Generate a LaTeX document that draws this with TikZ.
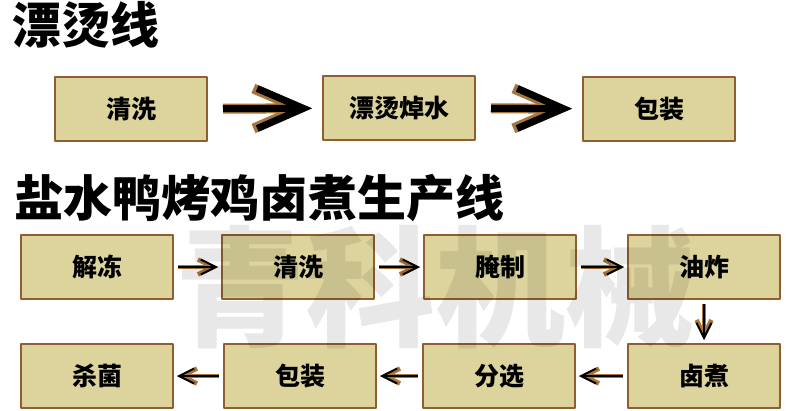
\documentclass[tikz,border=0pt]{standalone}
\usepackage{fontspec}
\setmainfont{Noto Sans CJK SC}[BoldFont={Noto Sans CJK SC Black}]
\usetikzlibrary{arrows.meta}
\definecolor{paper}{HTML}{DCD49C}
\definecolor{frame}{HTML}{8F5F2F}
\definecolor{rust}{HTML}{A8763C}
\begin{document}
\begin{tikzpicture}[x=1pt,y=-1pt, line join=round,
		stage/.style={draw=frame, line width=2pt, fill=paper, minimum width=152pt, minimum height=64pt, inner sep=0pt, font=\fontsize{25}{25}\selectfont\bfseries},
		bigflow/.style={line width=7pt, -{Straight Barb[length=46pt,width=40pt]}, preaction={draw=rust, line width=10pt, -{Straight Barb[length=46pt,width=40pt]}}, shorten <=15pt, shorten >=10pt},
		flow/.style={line width=2pt, -{Straight Barb[length=15pt,width=15pt]}, preaction={draw=rust, line width=4.5pt, -{Straight Barb[length=15pt,width=15pt]}}, shorten <=4pt, shorten >=3pt},
		title/.style={anchor=west, inner sep=0pt, font=\fontsize{49}{49}\selectfont\bfseries}]
	\fill[white] (0,0) rectangle (800,410);
	\useasboundingbox (0,0) rectangle (800,410);
	% 漂烫线
	\node[title] (t1) at (12,25) {漂烫线};
	\node[stage] (wash) at (131,109) {清洗};
	\node[stage] (scald) at (399,108) {漂烫焯水};
	\node[stage] (pack) at (659,109) {包装};
	\draw[bigflow] (wash) -- (scald);
	\draw[bigflow] (scald) -- (pack);
	% 盐水鸭烤鸡卤煮生产线
	\node[title] (t2) at (14,198) {盐水鸭烤鸡卤煮生产线};
	\node[stage] (thaw) at (97,267) {解冻};
	\node[stage] (clean) at (298,267) {清洗};
	\node[stage] (cure) at (500,267) {腌制};
	\node[stage] (fry) at (704,267) {油炸};
	\node[stage] (braise) at (704,376) {卤煮};
	\node[stage] (sort) at (499,376) {分选};
	\node[stage] (bag) at (300,376) {包装};
	\node[stage] (kill) at (97,376) {杀菌};
	\draw[flow] (thaw) -- (clean);
	\draw[flow] (clean) -- (cure);
	\draw[flow] (cure) -- (fry);
	\draw[flow] (fry) -- (braise);
	\draw[flow] (braise) -- (sort);
	\draw[flow] (sort) -- (bag);
	\draw[flow] (bag) -- (kill);
	% 水印
	\node[text=black, text opacity=0.09, font=\fontsize{130}{130}\selectfont\bfseries] (mark) at (435,287) {青科机械};
\end{tikzpicture}
\end{document}
